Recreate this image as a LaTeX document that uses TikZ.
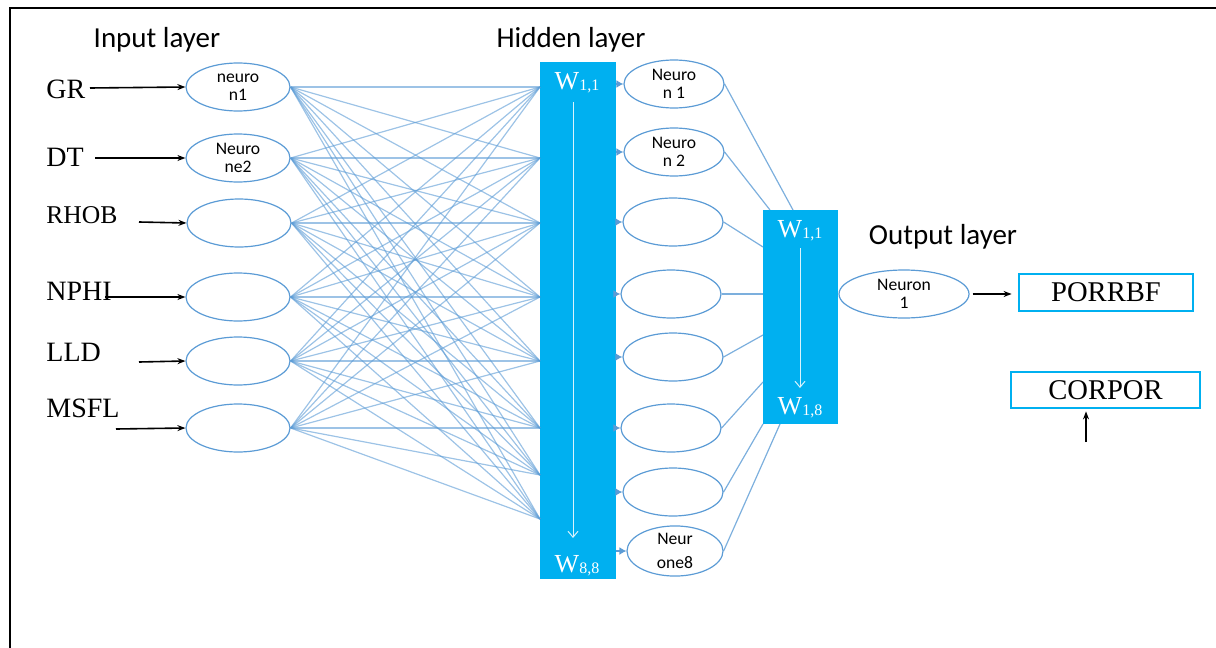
\documentclass[tikz,border=0pt]{standalone}
\usepackage{fontspec}
\setmainfont{Liberation Serif}
\newfontfamily\calibri{Carlito}
\usetikzlibrary{arrows.meta, positioning, shapes.geometric}

\definecolor{wireblue}{HTML}{5B9BD5}
\definecolor{barcyan}{HTML}{00B0F0}
\newcommand{\wsub}[1]{\raisebox{-0.5pt}{\fontsize{8}{8}\selectfont #1}}

\begin{document}
\begin{tikzpicture}[
            x=0.5pt, y=-0.5pt,
            neuron/.style={ellipse, draw=wireblue, line width=0.6pt, inner sep=0pt,
                minimum width=52pt, minimum height=24pt, align=center,
                font=\calibri\fontsize{8.8}{9}\selectfont},
            wire/.style={draw=wireblue, opacity=0.6, line width=0.6pt},
            inarrow/.style={-{Stealth[length=4pt, width=3pt]}, line width=0.8pt},
            tiparrow/.style={-{Latex[length=3.5pt, width=4pt]}, draw=wireblue, line width=0.8pt},
            warrow/.style={-{Straight Barb[length=3pt, width=5pt]}, draw=white!85!barcyan, line width=0.5pt},
            wbar/.style={rectangle, fill=barcyan, inner sep=0pt},
            wtext/.style={text=white, inner sep=0pt, font=\fontsize{13}{13}\selectfont},
            inlabel/.style={anchor=west, inner sep=0pt, font=\fontsize{14}{14}\selectfont},
            layertitle/.style={inner sep=0pt, font=\calibri\fontsize{14.5}{14.5}\selectfont},
            outbox/.style={draw=barcyan, line width=1.4pt, inner sep=0pt, font=\fontsize{14.3}{14.3}\selectfont}
        ]
        \useasboundingbox (0,0) rectangle (1216,648);
        % frame
        \draw[line width=1.1pt] (1216,8) -- (10,8) -- (10,648);

        % titles
        \node[layertitle] (tin) at (157,40) {Input layer};
        \node[layertitle] (thid) at (571,40) {Hidden layer};
        \node[layertitle] (tout) at (943,237) {Output layer};

        % input layer
        \node[neuron] (in1) at (238,87) {neuro\\n1};
        \node[neuron] (in2) at (238,158) {Neuro\\ne2};
        \node[neuron] (in3) at (239,223) {};
        \node[neuron] (in4) at (238,297) {};
        \node[neuron] (in5) at (238,361) {};
        \node[neuron] (in6) at (238,428) {};

        \node[inlabel] (lGR) at (46,89) {GR};
        \node[inlabel] (lDT) at (46,157) {DT};
        \node[inlabel, font=\fontsize{12.8}{13}\selectfont] (lRHOB) at (46,215) {RHOB};
        \node[inlabel] (lNPHI) at (46,291) {NPHI};
        \node[inlabel] (lLLD) at (46,352) {LLD};
        \node[inlabel] (lMSFL) at (46,408) {MSFL};

        \coordinate (aGR) at (90,88);
        \coordinate (aDT) at (95,158);
        \coordinate (aRHOB) at (139,222);
        \coordinate (aNPHI) at (105,297);
        \coordinate (aLLD) at (139,362);
        \coordinate (aMSFL) at (116,429);
        \draw[inarrow] (aGR) -- (in1.west);
        \draw[inarrow] (aDT) -- (in2.west);
        \draw[inarrow] (aRHOB) -- (in3.west);
        \draw[inarrow] (aNPHI) -- (in4.west);
        \draw[inarrow] (aLLD) -- (in5.west);
        \draw[inarrow] (aMSFL) -- (in6.west);

        % hidden weights
        \node[wbar, minimum width=38pt, minimum height=258.5pt] (hbar) at (578,320.5) {};
        \node[wtext] (w11) at (577,83) {W\wsub{1,1}};
        \node[wtext] (w88) at (577,566) {W\wsub{8,8}};
        \coordinate (hs) at (573,102);
        \coordinate (he) at (573,538);
        \draw[warrow] (hs) -- (he);

        \foreach \t [count=\j] in {87,158,223,297,361,428,475,519}
            \coordinate (tg\j) at (540,\t);
        \foreach \i in {1,...,6}
            \foreach \j in {1,...,8}
                \draw[wire] (in\i.east) -- (tg\j);

        % hidden layer
        \node[neuron, minimum width=50pt] (hid1) at (674,84) {Neuro\\n 1};
        \node[neuron, minimum width=50pt] (hid2) at (674,152) {Neuro\\n 2};
        \node[neuron, minimum width=50pt] (hid3) at (673,222) {};
        \node[neuron, minimum width=50pt] (hid4) at (671,294) {};
        \node[neuron, minimum width=50pt] (hid5) at (673,357) {};
        \node[neuron, minimum width=50pt] (hid6) at (671,428) {};
        \node[neuron, minimum width=50pt] (hid7) at (673,492) {};
        \node[neuron, minimum width=48pt] (hid8) at (675,551) {Neur\\[3pt]one8};
        \foreach \i in {1,...,8}
            \draw[tiparrow] (hbar.east |- hid\i.west) -- (hid\i.west);

        % output weights
        \node[wbar, minimum width=37.5pt, minimum height=107pt] (obar) at (800.5,317) {};
        \node[wtext] (v11) at (800,231) {W\wsub{1,1}};
        \node[wtext] (v18) at (800,408) {W\wsub{1,8}};
        \coordinate (os) at (800,248);
        \coordinate (oe) at (800,388);
        \draw[warrow] (os) -- (oe);

        \coordinate (s1) at (793,210);
        \coordinate (s2) at (770,210);
        \coordinate (s3) at (763,247);
        \coordinate (s4) at (763,294);
        \coordinate (s5) at (763,335);
        \coordinate (s6) at (763,382);
        \coordinate (s7) at (763,424);
        \coordinate (s8) at (780,424);
        \foreach \i in {1,...,8}
            \draw[wire, opacity=0.8] (hid\i.east) -- (s\i);

        % output layer
        \node[neuron, minimum width=65pt] (out) at (904,294) {Neuron\\1};
        \node[outbox, minimum width=87pt, minimum height=18.5pt] (porrbf) at (1106,292.5) {PORRBF};
        \node[outbox, minimum width=94.5pt, minimum height=18pt] (corpor) at (1105.5,390) {CORPOR};
        \draw[inarrow, shorten <=1.5pt, shorten >=3pt] (out.east) -- (out.east -| porrbf.west);
        \coordinate (cin) at (1086,442);
        \draw[inarrow, shorten >=1pt] (cin) -- (cin |- corpor.south);
    \end{tikzpicture}
\end{document}
